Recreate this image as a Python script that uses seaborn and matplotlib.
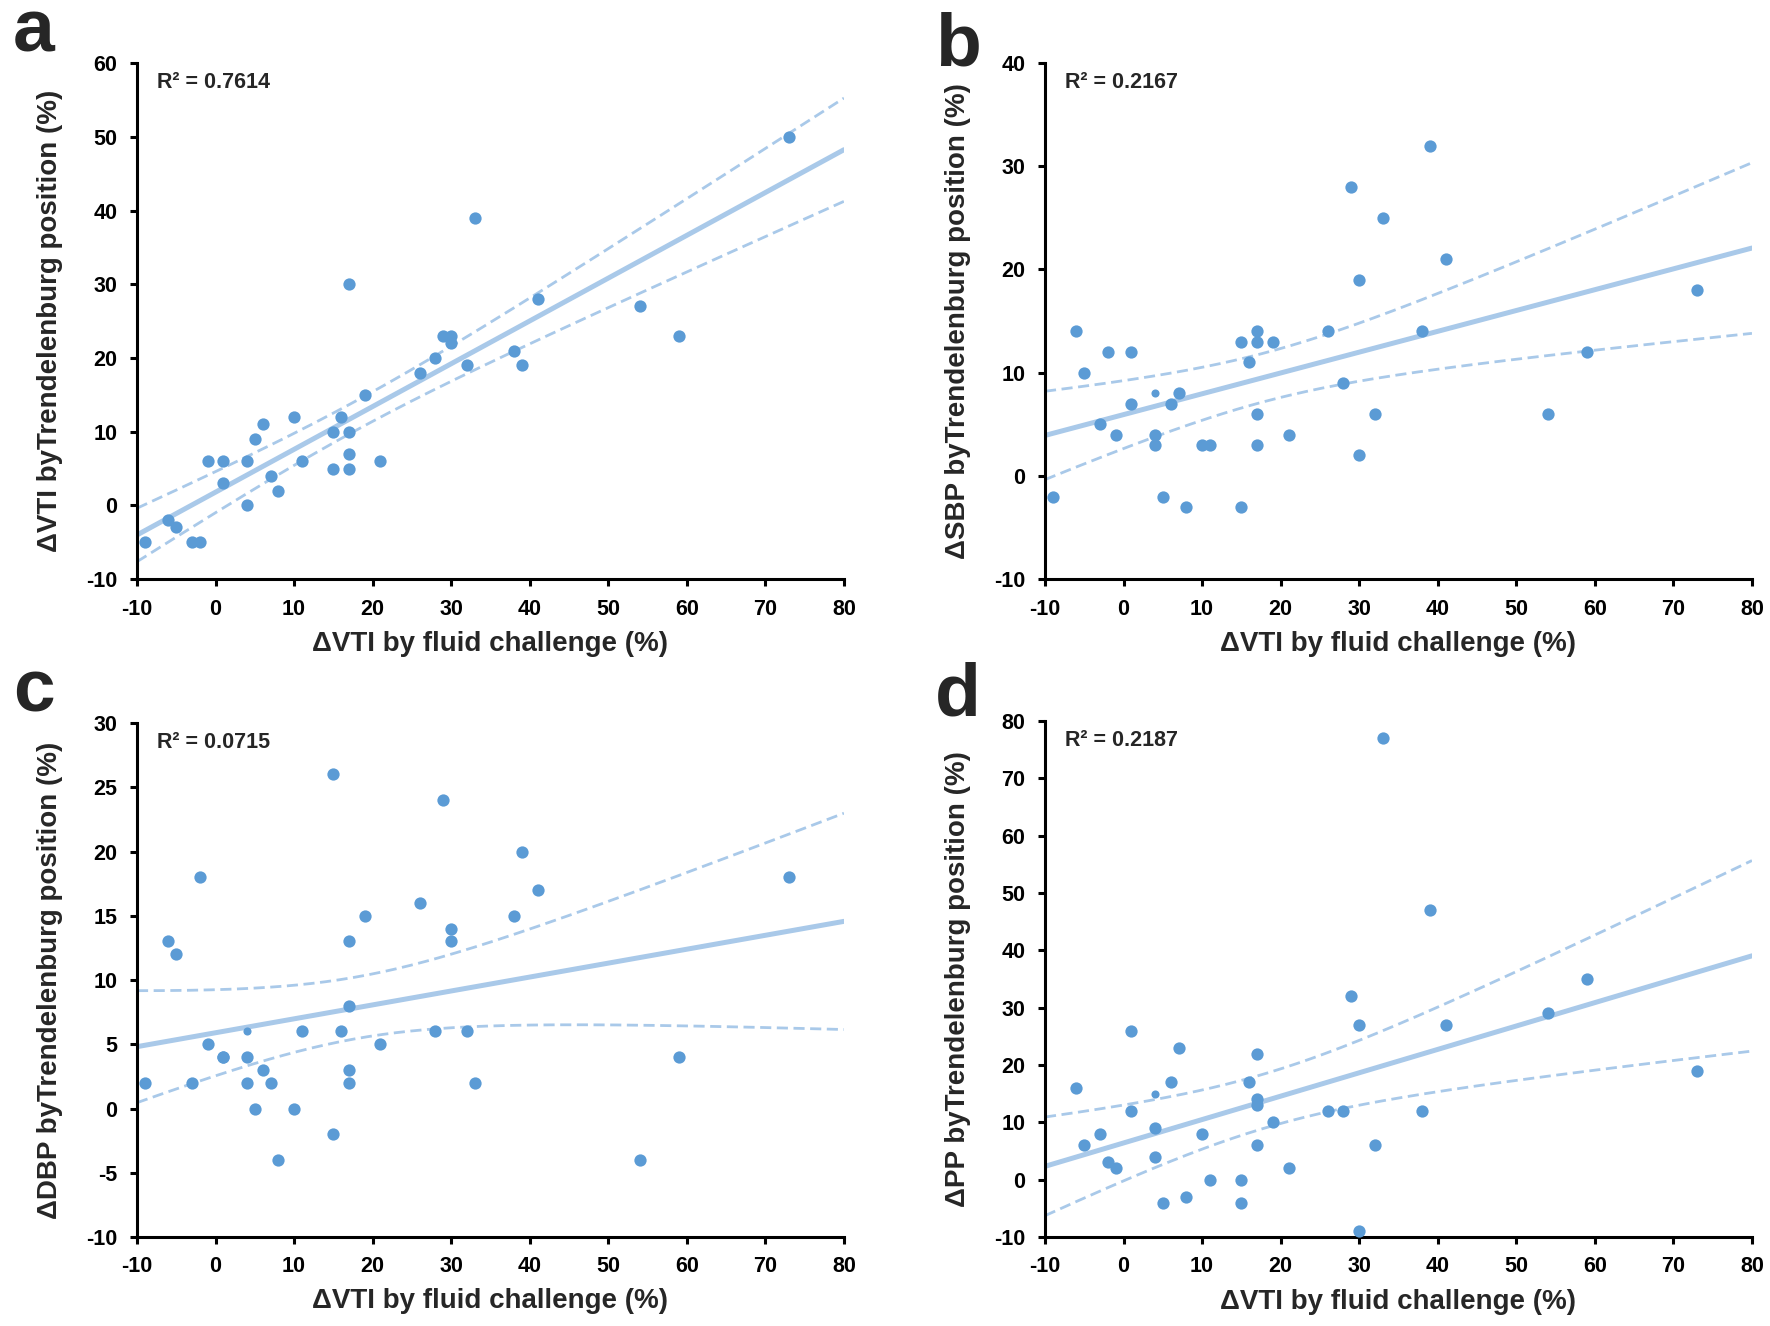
import numpy as np
import pandas as pd
import seaborn as sns
from matplotlib import pyplot as plt

# x: ΔVTI by fluid challenge (%), y: change by Trendelenburg position (%)
fluid_a = [-9, -6, -5, -3, -2, -1, 1, 1, 4, 4, 4, 5, 6, 7, 8, 10, 11, 15, 15, 16,
           17, 17, 17, 17, 19, 21, 26, 28, 29, 30, 30, 32, 33, 38, 39, 41, 54, 59, 73]
vti_a = [-5, -2, -3, -5, -5, 6, 6, 3, 0, 6, 0, 9, 11, 4, 2, 12, 6, 10, 5, 12,
         10, 7, 5, 30, 15, 6, 18, 20, 23, 23, 22, 19, 39, 21, 19, 28, 27, 23, 50]

fluid_b = [-9, -6, -5, -3, -2, -1, 1, 1, 4, 4, 4, 5, 6, 7, 8, 10, 11, 15, 15, 16,
           17, 17, 17, 17, 19, 21, 26, 28, 29, 30, 30, 32, 33, 38, 39, 41, 54, 59, 73]
sbp_b = [-2, 14, 10, 5, 12, 4, 12, 7, 8, 4, 3, -2, 7, 8, -3, 3, 3, 13, -3, 11,
         14, 13, 6, 3, 13, 4, 14, 9, 28, 19, 2, 6, 25, 14, 32, 21, 6, 12, 18]

fluid_c = [-9, -6, -5, -3, -2, -1, 1, 1, 4, 4, 4, 5, 6, 7, 8, 10, 11, 15, 15, 16,
           17, 17, 17, 17, 19, 21, 26, 28, 29, 30, 30, 32, 33, 38, 39, 41, 54, 59, 73]
dbp_c = [2, 13, 12, 2, 18, 5, 4, 4, 6, 4, 2, 0, 3, 2, -4, 0, 6, 26, -2, 6,
         13, 8, 3, 2, 15, 5, 16, 6, 24, 14, 13, 6, 2, 15, 20, 17, -4, 4, 18]

# the first subject falls below the -10 axis floor in panel d
fluid_d = [-9, -6, -5, -3, -2, -1, 1, 1, 4, 4, 4, 5, 6, 7, 8, 10, 11, 15, 15, 16,
           17, 17, 17, 17, 19, 21, 26, 28, 29, 30, 30, 32, 33, 38, 39, 41, 54, 59, 73]
pp_d = [-12, 16, 6, 8, 3, 2, 26, 12, 15, 9, 4, -4, 17, 23, -3, 8, 0, 0, -4, 17,
        22, 14, 13, 6, 10, 2, 12, 12, 32, 27, -9, 6, 77, 12, 47, 27, 29, 35, 19]

x_ticks = list(range(-10, 81, 10))
y_ticks_a = list(range(-10, 61, 10))
y_ticks_b = list(range(-10, 41, 10))
y_ticks_c = list(range(-10, 31, 5))
y_ticks_d = list(range(-10, 81, 10))

r2_labels = ['R² = 0.7614', 'R² = 0.2167', 'R² = 0.0715', 'R² = 0.2187']
y_labels = ['ΔVTI byTrendelenburg position (%)', 'ΔSBP byTrendelenburg position (%)',
            'ΔDBP byTrendelenburg position (%)', 'ΔPP byTrendelenburg position (%)']
x_label = 'ΔVTI by fluid challenge (%)'
letters = ['a', 'b', 'c', 'd']

POINT_COLOR = '#5b9bd5'
LINE_COLOR = '#a9c9e9'
T_95 = 2.026

sns.set_style('ticks')
plt.rcParams['font.family'] = ['Liberation Sans', 'DejaVu Sans']
plt.rcParams['font.weight'] = 'bold'
plt.rcParams['axes.labelweight'] = 'bold'
plt.rcParams['axes.edgecolor'] = 'black'
plt.rcParams['axes.unicode_minus'] = False
plt.rcParams['xtick.color'] = 'black'
plt.rcParams['ytick.color'] = 'black'


def ci_lines(ax, x, y):
    # 95% confidence band of the fitted line, drawn dashed like the original
    x = np.asarray(x, float)
    y = np.asarray(y, float)
    slope, intercept = np.polyfit(x, y, 1)
    resid = y - (slope * x + intercept)
    n = len(x)
    s = np.sqrt(np.sum(resid ** 2) / (n - 2))
    sxx = np.sum((x - x.mean()) ** 2)
    grid = pd.Series(np.linspace(-10, 80, 200))
    half = T_95 * s * np.sqrt(1 / n + (grid - x.mean()) ** 2 / sxx)
    fit = slope * grid + intercept
    for band in (fit + half, fit - half):
        ax.plot(grid, band, color=LINE_COLOR, lw=2, dashes=(4, 2), zorder=2)


fig = plt.figure(figsize=(17.7, 13.26), dpi=100)
rects = [(0.0774, 0.5633, 0.3994, 0.3891), (0.5904, 0.5633, 0.3994, 0.3891),
         (0.0774, 0.0671, 0.3994, 0.3876), (0.5904, 0.0671, 0.3994, 0.3891)]
panels = [(fluid_a, vti_a, y_ticks_a), (fluid_b, sbp_b, y_ticks_b),
          (fluid_c, dbp_c, y_ticks_c), (fluid_d, pp_d, y_ticks_d)]
letter_pos = [(13, 52), (935, 65), (13, 712), (935, 715)]

for i, (x, y, y_ticks) in enumerate(panels):
    ax = fig.add_axes(rects[i])
    ax.set_xlim(-10, 80)
    ax.set_ylim(y_ticks[0], y_ticks[-1])
    df = pd.DataFrame({'x': x, 'y': y})
    # one subject at x=4 is drawn with a smaller marker
    small = df.index == df.index[df['x'] == 4][0]
    sns.regplot(data=df, x='x', y='y', scatter=False, ci=None, truncate=False, ax=ax,
                line_kws=dict(color=LINE_COLOR, lw=3.6, zorder=2))
    ci_lines(ax, x, y)
    sns.scatterplot(data=df[~small], x='x', y='y', color=POINT_COLOR, s=78,
                    linewidth=0, zorder=3, ax=ax)
    sns.scatterplot(data=df[small], x='x', y='y', color=POINT_COLOR, s=34,
                    linewidth=0, zorder=3, ax=ax)
    ax.set_xlim(-10, 80)
    ax.set_ylim(y_ticks[0], y_ticks[-1])
    ax.set_xticks(x_ticks)
    ax.set_yticks(y_ticks)
    ax.tick_params(labelsize=15.5, length=5, width=2.2, pad=9)
    for sp in ax.spines.values():
        sp.set_linewidth(2.2)
    sns.despine(ax=ax)
    ax.set_xlabel(x_label, fontsize=20)
    ax.set_ylabel(y_labels[i], fontsize=20)
    ax.xaxis.set_label_coords(0.5, -0.10)
    ax.yaxis.set_label_coords(-0.105, 0.5)
    ax.text(0.028, 0.952, r2_labels[i], transform=ax.transAxes,
            fontsize=15.5, fontweight='bold', va='baseline')
    lx, ly = letter_pos[i]
    fig.text(lx / 1770, 1 - ly / 1326, letters[i], fontsize=54, fontweight='bold',
             va='baseline', ha='left')

fig.savefig('out.png', dpi=100, facecolor='white')
